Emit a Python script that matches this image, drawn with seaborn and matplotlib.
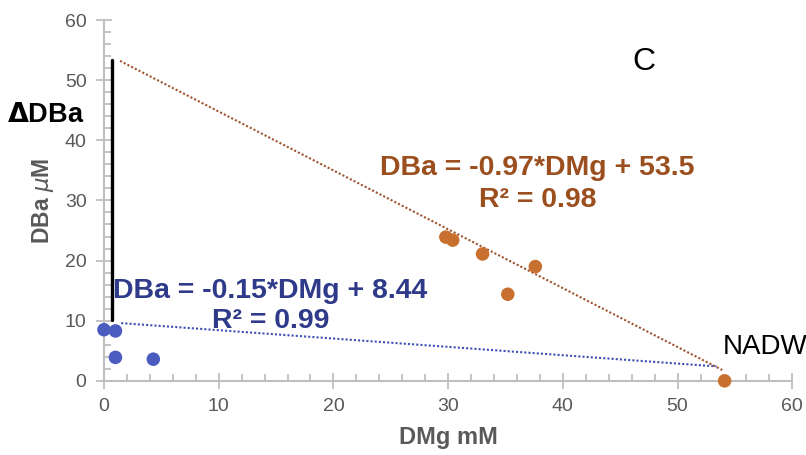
import matplotlib
matplotlib.use("Agg")
import matplotlib.pyplot as plt
import seaborn as sns
import pandas as pd
from matplotlib.ticker import MultipleLocator

sns.set_theme(style="white")
plt.rcParams['font.family'] = ['Liberation Sans', 'DejaVu Sans']

# Surface / low-Mg end members (blue)
blue_dmg = [0.0, 1.0, 1.0, 4.3]
blue_dba = [8.5, 8.3, 3.9, 3.6]
# Deep samples (orange)
orange_dmg = [29.8, 30.4, 33.0, 37.6, 35.2, 54.1]
orange_dba = [23.9, 23.4, 21.1, 19.0, 14.4, 0.0]

# Trend lines as drawn (end points)
orange_fit_x = [1.4, 53.9]
orange_fit_y = [53.2, 1.8]
blue_fit_x = [1.5, 53.4]
blue_fit_y = [9.6, 2.4]

# Delta DBa bar
delta_x = [0.7, 0.7]
delta_y = [10.1, 53.4]

orange_eq = "DBa = -0.97*DMg + 53.5\nR² = 0.98"
blue_eq = "DBa = -0.15*DMg + 8.44\nR² = 0.99"

ORANGE_PT = '#C8702F'
ORANGE_TXT = '#9C4F1E'
BLUE_PT = '#4A5CC0'
BLUE_TXT = '#2F3B8A'
GRAY = '#595959'
AXIS = '#BFBFBF'

fig = plt.figure(figsize=(8.06, 4.55), dpi=100)
ax = fig.add_axes([0.129, 0.163, 0.854, 0.793])

df_b = pd.DataFrame({'DMg': blue_dmg, 'DBa': blue_dba})
df_o = pd.DataFrame({'DMg': orange_dmg, 'DBa': orange_dba})

ax.plot(delta_x, delta_y, color='black', lw=2.4, zorder=2)
sns.lineplot(x=orange_fit_x, y=orange_fit_y, ax=ax, color='#A0522D',
             lw=1.5, linestyle=(0, (1, 1)), zorder=2)
sns.lineplot(x=blue_fit_x, y=blue_fit_y, ax=ax, color='#3B4FB5',
             lw=1.5, linestyle=(0, (1, 1)), zorder=2)
sns.scatterplot(data=df_b, x='DMg', y='DBa', ax=ax, color=BLUE_PT, s=95,
                edgecolor='none', zorder=3, clip_on=False)
sns.scatterplot(data=df_o, x='DMg', y='DBa', ax=ax, color=ORANGE_PT, s=95,
                edgecolor='none', zorder=3, clip_on=False)

ax.set_xlim(0, 60)
ax.set_ylim(0, 60)
ax.xaxis.set_major_locator(MultipleLocator(10))
ax.yaxis.set_major_locator(MultipleLocator(10))
ax.xaxis.set_minor_locator(MultipleLocator(2))
ax.yaxis.set_minor_locator(MultipleLocator(2))
ax.tick_params(which='major', direction='inout', length=11, width=1.3,
               color=AXIS, labelcolor=GRAY, labelsize=14, pad=7,
               bottom=True, left=True)
ax.tick_params(which='minor', direction='in', length=5, width=1.3,
               color=AXIS, bottom=True, left=True)

for side in ['top', 'right']:
    ax.spines[side].set_visible(False)
for side in ['left', 'bottom']:
    ax.spines[side].set_color(AXIS)
    ax.spines[side].set_linewidth(1.5)

ax.set_xlabel('DMg mM', fontsize=17, fontweight='bold', color=GRAY, labelpad=8)
ax.set_ylabel(r'DBa $\mu$M', fontsize=16.5, fontweight='bold', color=GRAY)
ax.yaxis.set_label_coords(-0.07, 0.5)

ax.text(37.8, 32.7, orange_eq, color=ORANGE_TXT, fontsize=20.5,
        fontweight='bold', ha='center', va='center', linespacing=1.3)
ax.text(14.5, 12.4, blue_eq, color=BLUE_TXT, fontsize=20.5,
        fontweight='bold', ha='center', va='center', linespacing=1.2)
ax.text(47.1, 53.1, 'C', color='black', fontsize=23, ha='center', va='center')
ax.text(53.9, 5.6, 'NADW', color='black', fontsize=20, ha='left',
        va='center', clip_on=False)
ax.text(-5.1, 44.2, r'$\mathbf{\Delta}$DBa', color='black', fontsize=19.5,
        fontweight='bold', ha='center', va='center', clip_on=False)

fig.savefig('out.png', dpi=100)
